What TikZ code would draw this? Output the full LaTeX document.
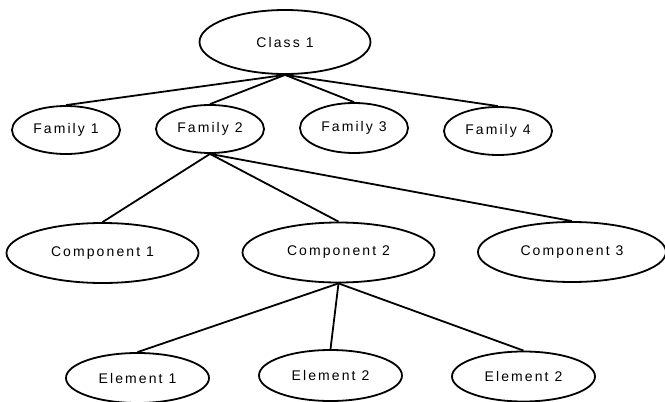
\documentclass[tikz,border=0pt]{standalone}
\usepackage{fontspec}
\setmainfont{Liberation Sans}[LetterSpace=15]
\usetikzlibrary{shapes.geometric}
\begin{document}
\begin{tikzpicture}[x=1pt, y=-1pt,
  oval/.style={ellipse, draw=black, line width=1.8pt, inner sep=0pt,
    font=\fontsize{14pt}{16pt}\selectfont, fill=white},
  link/.style={draw=black, line width=1.8pt}]
  \useasboundingbox (0,0) rectangle (665,402);

  % top level
  \node[oval, minimum width=171pt, minimum height=64pt] (class) at (285,42) {Class 1};

  % families
  \node[oval, minimum width=108pt, minimum height=48pt] (fam1) at (66,130)  {Family 1};
  \node[oval, minimum width=108pt, minimum height=48pt] (fam2) at (210,129) {Family 2};
  \node[oval, minimum width=108pt, minimum height=50pt] (fam3) at (354,128) {Family 3};
  \node[oval, minimum width=108pt, minimum height=48pt] (fam4) at (498,131) {Family 4};

  % components
  \node[oval, minimum width=192pt, minimum height=60pt] (comp1) at (102.5,253) {Component 1};
  \node[oval, minimum width=192pt, minimum height=60pt] (comp2) at (338.5,252.5) {Component 2};
  \node[oval, minimum width=188pt, minimum height=60pt] (comp3) at (572,252) {Component 3};

  % elements
  \node[oval, minimum width=143pt, minimum height=50pt] (el1) at (137.5,378) {Element 1};
  \node[oval, minimum width=143pt, minimum height=51pt] (el2) at (330.5,375.5) {Element 2};
  \node[oval, minimum width=143pt, minimum height=50pt] (el3) at (523.5,376.5) {Element 2};

  % tree edges
  \foreach \c in {fam1,fam2,fam3,fam4} \draw[link] (class.south) -- (\c.north);
  \foreach \c in {comp1,comp2,comp3} \draw[link] (fam2.south) -- (\c.north);
  \foreach \c in {el1,el2,el3} \draw[link] (comp2.south) -- (\c.north);
\end{tikzpicture}
\end{document}
